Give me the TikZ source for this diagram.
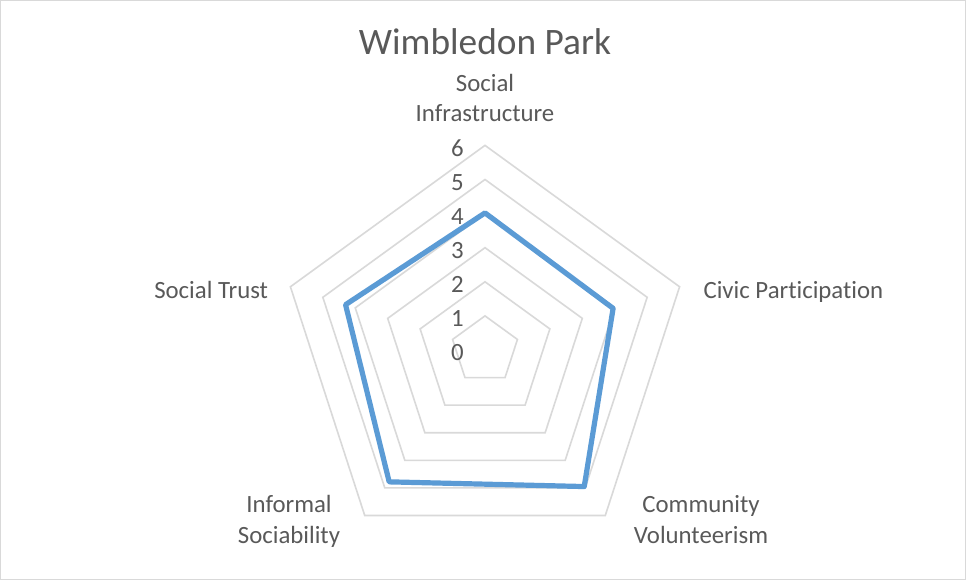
\documentclass[tikz,border=0pt]{standalone}
\usepackage{fontspec}
\setmainfont{Carlito}[Ligatures=NoCommon]
\definecolor{gridc}{HTML}{D9D9D9}
\definecolor{txt}{HTML}{595959}
\definecolor{series}{HTML}{5B9BD5}
\tikzset{
  gridline/.style={draw=gridc, line width=1.2pt, line join=miter},
  seriesline/.style={draw=series, line width=3.9pt, line join=round},
  lab/.style={text=txt, inner sep=0pt, font=\fontsize{18.6}{23}\selectfont},
  ticklab/.style={text=txt, inner sep=0pt, anchor=base east, font=\fontsize{18.6}{23}\selectfont},
  titlelab/.style={text=txt, inner sep=0pt, anchor=base, font=\fontsize{28}{34}\selectfont},
}
\begin{document}
\begin{tikzpicture}[x=0.75pt, y=0.75pt]
\useasboundingbox (0,0) rectangle (966,580);
\fill[white] (0,0) rectangle (966,580);
\draw[gridc, line width=0.9pt] (0.8,0.8) rectangle (965.2,579.2);
\def\s{34.1}
\begin{scope}[shift={(485,230)}]
  \foreach \l in {1,...,6}{
    \draw[gridline] (90:{\l*\s}) -- (18:{\l*\s}) -- (-54:{\l*\s}) -- (-126:{\l*\s}) -- (162:{\l*\s}) -- cycle;
  }
  \coordinate (p1) at (90:{4.02*\s});
  \coordinate (p2) at (18:{3.95*\s});
  \coordinate (p3) at (-54:{4.95*\s});
  \coordinate (p4) at (-126:{4.78*\s});
  \coordinate (p5) at (162:{4.3*\s});
  \draw[seriesline] (p1) -- (p2) -- (p3) -- (p4) -- (p5) -- cycle;
  \foreach \l in {0,...,6}{
    \node[ticklab] (t\l) at (-21,{\l*\s-11}) {\l};
  }
\end{scope}
\node[titlelab] (title) at (485,525.7) {Wimbledon Park};
\node[lab, anchor=base, align=center] (ax1) at (485,458.3) {Social\\Infrastructure};
\node[lab, anchor=base west] (ax2) at (703.3,281.7) {Civic Participation};
\node[lab, anchor=base, align=center] (ax3) at (701,36.7) {Community\\Volunteerism};
\node[lab, anchor=base, align=center] (ax4) at (289,36.7) {Informal\\Sociability};
\node[lab, anchor=base east] (ax5) at (268.3,281.7) {Social Trust};
\end{tikzpicture}
\end{document}
